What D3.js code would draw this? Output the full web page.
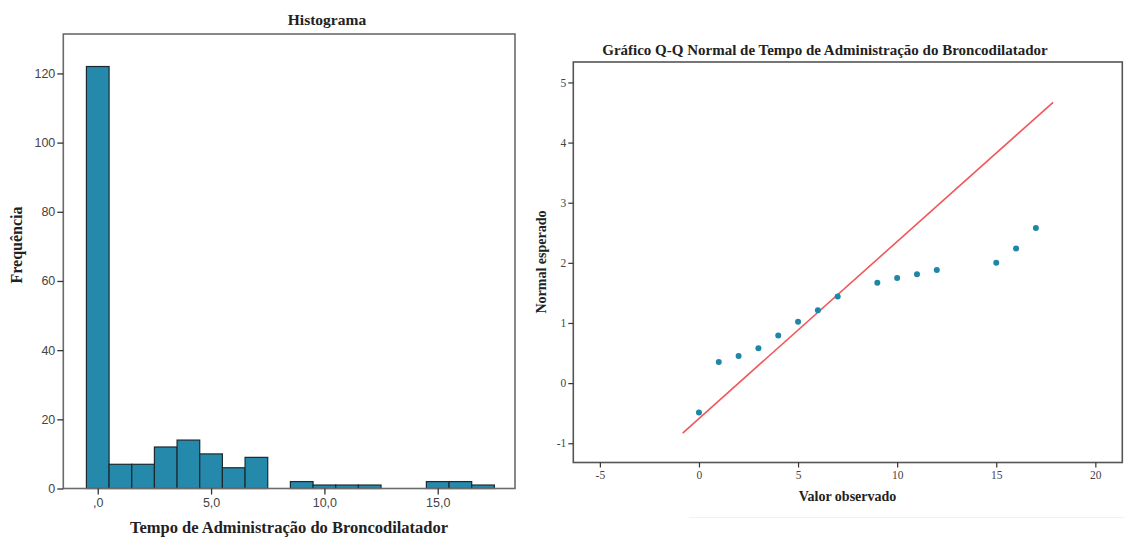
<!DOCTYPE html>
<html><head><meta charset="utf-8">
<script src="https://cdn.jsdelivr.net/npm/d3@7"></script>
<style>body{margin:0;background:#fff}svg{display:block}</style>
</head><body><svg id="c" width="1124" height="539"></svg>
<script>
// Histogram data
const binCenters = [0,1,2,3,4,5,6,7,8,9,10,11,12,13,14,15,16,17];
const binCounts  = [122,7,7,12,14,10,6,9,0,2,1,1,1,0,0,2,2,1];
const histYTicks = [0,20,40,60,80,100,120];
const histXTicks = [0,5,10,15];
const histXTickLabels = [",0","5,0","10,0","15,0"];

// Q-Q data
const qqObserved = [0,1,2,3,4,5,6,7,9,10,11,12,15,16,17];
const qqExpected = [-0.49,0.35,0.45,0.58,0.79,1.02,1.21,1.44,1.67,1.75,1.81,1.88,2.0,2.24,2.58];
const qqLineX = [-0.82,17.87];
const qqLineY = [-0.83,4.67];
const qqXTicks = [-5,0,5,10,15,20];
const qqYTicks = [-1,0,1,2,3,4,5];

const svg = d3.select("#c");
const serif = "'Liberation Serif','Times New Roman',serif";
const sans = "'Liberation Sans',Arial,sans-serif";

// ---------- Histogram ----------
{
  const L=63.3,R=515,T=34,B=488.5;
  const x=d3.scaleLinear().domain([-1.52,18.41]).range([L,R]);
  const y=d3.scaleLinear().domain([0,131.4]).range([B,T]);
  const g=svg.append("g");
  g.selectAll("rect.bar").data(binCenters.map((c,i)=>({c,n:binCounts[i]})).filter(d=>d.n>0))
    .enter().append("rect").attr("class","bar")
    .attr("x",d=>x(d.c-0.5)).attr("width",d=>x(d.c+0.5)-x(d.c-0.5))
    .attr("y",d=>y(d.n)).attr("height",d=>y(0)-y(d.n))
    .attr("fill","#2589ab").attr("stroke","#1c2a30").attr("stroke-width",1.2);
  g.append("rect").attr("x",L).attr("y",T).attr("width",R-L).attr("height",B-T)
    .attr("fill","none").attr("stroke","#6b6b6b").attr("stroke-width",1.6);
  const ya=g.append("g").attr("transform",`translate(${L},0)`)
    .call(d3.axisLeft(y).tickValues(histYTicks).tickFormat(d=>String(d)).tickSize(6).tickPadding(2));
  const xa=g.append("g").attr("transform",`translate(0,${B})`)
    .call(d3.axisBottom(x).tickValues(histXTicks).tickFormat((d,i)=>histXTickLabels[i]).tickSize(6).tickPadding(4));
  [ya,xa].forEach(a=>{a.select(".domain").remove();
    a.selectAll("line").attr("stroke","#333").attr("stroke-width",1.3);
    a.selectAll("text").attr("font-family",sans).attr("font-size",12.5).attr("fill","#444");});
  g.append("text").attr("x",327).attr("y",25).attr("text-anchor","middle")
    .attr("font-family",serif).attr("font-weight","bold").attr("font-size",15.5).attr("fill","#222").text("Histograma");
  g.append("text").attr("x",289).attr("y",533).attr("text-anchor","middle")
    .attr("font-family",serif).attr("font-weight","bold").attr("font-size",16.5).attr("fill","#222")
    .text("Tempo de Administração do Broncodilatador");
  g.append("text").attr("transform","translate(22,245) rotate(-90)").attr("text-anchor","middle")
    .attr("font-family",serif).attr("font-weight","bold").attr("font-size",16).attr("fill","#222").text("Frequência");
}

// ---------- Q-Q plot ----------
{
  const L=573.3,R=1122.3,T=62,B=462.5;
  const x=d3.scaleLinear().domain([-6.34,21.36]).range([L,R]);
  const y=d3.scaleLinear().domain([-1.32,5.34]).range([B,T]);
  const g=svg.append("g");
  g.append("line").attr("x1",689).attr("x2",1124).attr("y1",517.5).attr("y2",517.5)
    .attr("stroke","#f2f2f2").attr("stroke-width",1);
  g.append("rect").attr("x",L).attr("y",T).attr("width",R-L).attr("height",B-T)
    .attr("fill","none").attr("stroke","#555").attr("stroke-width",1.6);
  g.append("line").attr("x1",x(qqLineX[0])).attr("y1",y(qqLineY[0]))
    .attr("x2",x(qqLineX[1])).attr("y2",y(qqLineY[1]))
    .attr("stroke","#f0585b").attr("stroke-width",1.6);
  g.selectAll("circle").data(qqObserved.map((v,i)=>[v,qqExpected[i]])).enter().append("circle")
    .attr("cx",d=>x(d[0])).attr("cy",d=>y(d[1])).attr("r",3)
    .attr("fill","#1f86a8");
  const ya=g.append("g").attr("transform",`translate(${L},0)`)
    .call(d3.axisLeft(y).tickValues(qqYTicks).tickFormat(d=>String(d)).tickSize(5).tickPadding(2));
  const xa=g.append("g").attr("transform",`translate(0,${B})`)
    .call(d3.axisBottom(x).tickValues(qqXTicks).tickFormat(d=>String(d)).tickSize(5).tickPadding(3));
  [ya,xa].forEach(a=>{a.select(".domain").remove();
    a.selectAll("line").attr("stroke","#333").attr("stroke-width",1.2);
    a.selectAll("text").attr("font-family",serif).attr("font-size",11.5).attr("fill","#444");});
  g.append("text").attr("x",825).attr("y",55).attr("text-anchor","middle")
    .attr("font-family",serif).attr("font-weight","bold").attr("font-size",15).attr("fill","#222")
    .text("Gráfico Q-Q Normal de Tempo de Administração do Broncodilatador");
  g.append("text").attr("x",847.5).attr("y",501).attr("text-anchor","middle")
    .attr("font-family",serif).attr("font-weight","bold").attr("font-size",14).attr("fill","#222").text("Valor observado");
  g.append("text").attr("transform","translate(546,262) rotate(-90)").attr("text-anchor","middle")
    .attr("font-family",serif).attr("font-weight","bold").attr("font-size",14).attr("fill","#222").text("Normal esperado");
}
</script></body></html>
